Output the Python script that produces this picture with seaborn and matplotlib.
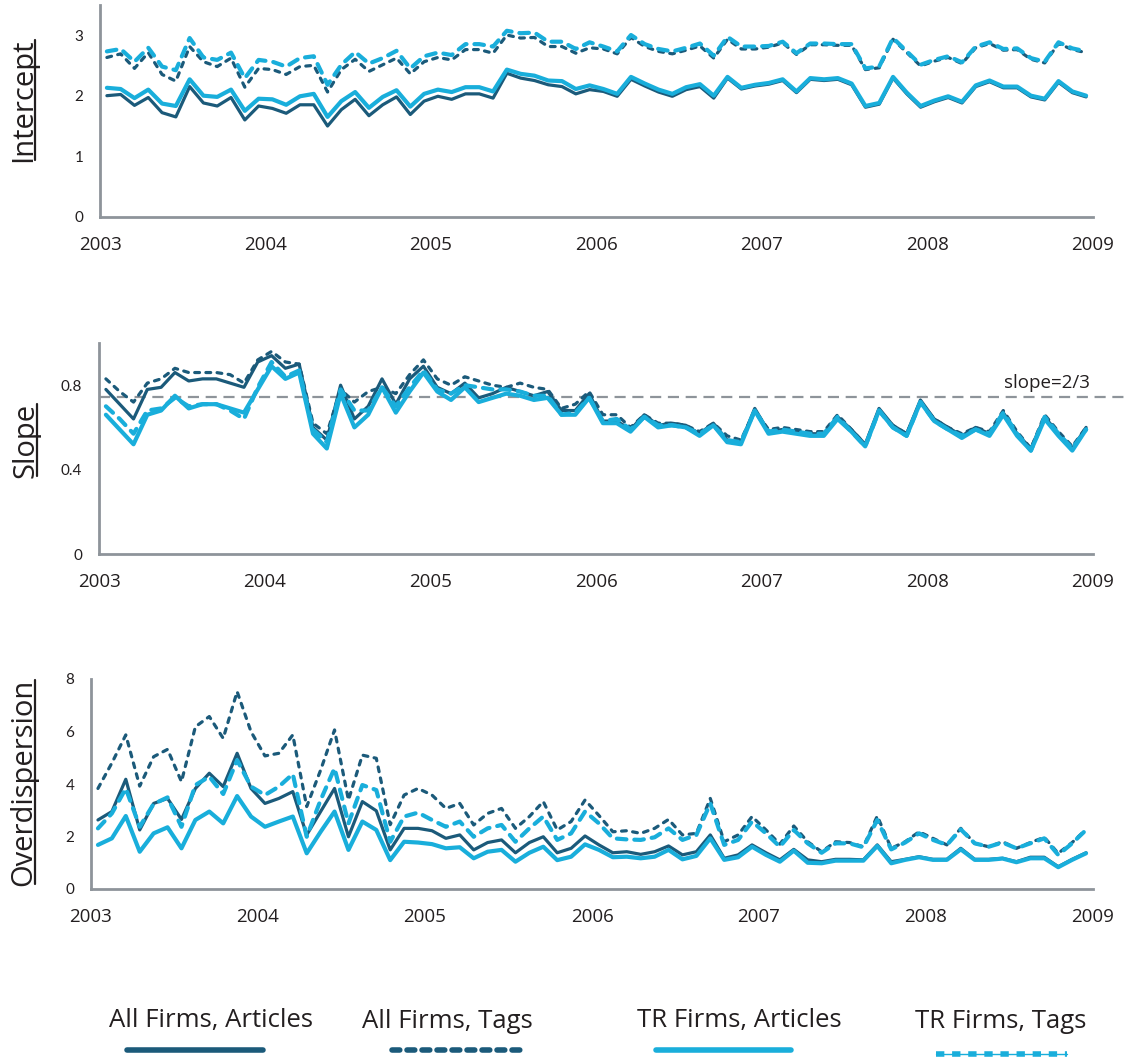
#!/usr/bin/env python3

# Import libraries
import numpy as np
import pandas as pd
import matplotlib as mpl
mpl.use("Agg")
import matplotlib.pyplot as plt
from matplotlib.lines import Line2D
from matplotlib.ticker import MultipleLocator, FuncFormatter
import seaborn as sns


# Monthly estimates, Jan 2003 .. Dec 2008 (72 months)
years = [2003, 2004, 2005, 2006, 2007, 2008, 2009]
series_names = ["All Firms, Articles", "All Firms, Tags", "TR Firms, Articles", "TR Firms, Tags"]

intercept_all_articles = [2.00, 2.02, 1.84, 1.97, 1.72, 1.65, 2.15, 1.88, 1.83, 1.97, 1.60, 1.83,
                          1.79, 1.71, 1.85, 1.85, 1.50, 1.77, 1.94, 1.67, 1.85, 1.98, 1.69, 1.91,
                          1.99, 1.94, 2.03, 2.03, 1.96, 2.37, 2.29, 2.25, 2.18, 2.15, 2.03, 2.10,
                          2.07, 1.99, 2.27, 2.16, 2.06, 1.99, 2.10, 2.15, 1.96, 2.29, 2.11, 2.16,
                          2.19, 2.25, 2.05, 2.27, 2.25, 2.27, 2.18, 1.81, 1.86, 2.29, 2.03, 1.81,
                          1.90, 1.97, 1.88, 2.15, 2.23, 2.13, 2.13, 1.98, 1.93, 2.22, 2.05, 1.98]
intercept_all_tags = [2.63, 2.69, 2.45, 2.71, 2.35, 2.24, 2.81, 2.56, 2.48, 2.62, 2.14, 2.45,
                      2.43, 2.35, 2.48, 2.50, 2.06, 2.43, 2.60, 2.40, 2.51, 2.62, 2.36, 2.56,
                      2.63, 2.59, 2.76, 2.76, 2.70, 3.00, 2.95, 2.96, 2.81, 2.81, 2.70, 2.79,
                      2.77, 2.69, 2.96, 2.81, 2.73, 2.69, 2.75, 2.82, 2.62, 2.93, 2.77, 2.77,
                      2.80, 2.87, 2.68, 2.84, 2.84, 2.83, 2.83, 2.43, 2.46, 2.93, 2.71, 2.49,
                      2.57, 2.63, 2.53, 2.79, 2.86, 2.75, 2.76, 2.60, 2.54, 2.86, 2.76, 2.71]
intercept_tr_articles = [2.13, 2.11, 1.96, 2.10, 1.87, 1.83, 2.27, 2.00, 1.98, 2.10, 1.75, 1.95,
                         1.94, 1.85, 1.99, 2.03, 1.65, 1.91, 2.06, 1.80, 1.98, 2.09, 1.82, 2.03,
                         2.10, 2.06, 2.14, 2.14, 2.07, 2.43, 2.36, 2.33, 2.25, 2.24, 2.11, 2.17,
                         2.11, 2.03, 2.31, 2.20, 2.10, 2.03, 2.14, 2.19, 2.00, 2.31, 2.13, 2.18,
                         2.21, 2.27, 2.07, 2.29, 2.27, 2.29, 2.20, 1.83, 1.88, 2.31, 2.05, 1.83,
                         1.92, 1.99, 1.90, 2.17, 2.25, 2.15, 2.15, 2.00, 1.95, 2.24, 2.07, 2.00]
intercept_tr_tags = [2.73, 2.77, 2.56, 2.79, 2.48, 2.42, 2.95, 2.63, 2.59, 2.71, 2.29, 2.59,
                     2.56, 2.48, 2.62, 2.65, 2.18, 2.51, 2.72, 2.53, 2.62, 2.74, 2.45, 2.65,
                     2.71, 2.67, 2.85, 2.85, 2.81, 3.07, 3.03, 3.04, 2.89, 2.89, 2.77, 2.88,
                     2.81, 2.73, 3.00, 2.85, 2.77, 2.73, 2.79, 2.86, 2.66, 2.97, 2.81, 2.81,
                     2.82, 2.89, 2.70, 2.86, 2.86, 2.85, 2.85, 2.45, 2.48, 2.95, 2.73, 2.51,
                     2.59, 2.65, 2.55, 2.81, 2.88, 2.77, 2.78, 2.62, 2.56, 2.88, 2.78, 2.73]

slope_all_articles = [0.78, 0.71, 0.64, 0.78, 0.79, 0.86, 0.82, 0.83, 0.83, 0.81, 0.79, 0.91,
                      0.94, 0.88, 0.90, 0.60, 0.54, 0.80, 0.64, 0.70, 0.83, 0.71, 0.83, 0.89,
                      0.79, 0.76, 0.81, 0.74, 0.76, 0.79, 0.77, 0.75, 0.77, 0.68, 0.68, 0.76,
                      0.63, 0.63, 0.59, 0.66, 0.61, 0.62, 0.61, 0.57, 0.62, 0.54, 0.53, 0.69,
                      0.58, 0.59, 0.58, 0.57, 0.57, 0.65, 0.59, 0.52, 0.69, 0.61, 0.57, 0.73,
                      0.64, 0.60, 0.56, 0.60, 0.57, 0.67, 0.57, 0.50, 0.65, 0.57, 0.50, 0.60]
slope_all_tags = [0.83, 0.77, 0.72, 0.81, 0.83, 0.88, 0.86, 0.86, 0.86, 0.85, 0.81, 0.92,
                  0.96, 0.91, 0.90, 0.62, 0.57, 0.78, 0.72, 0.77, 0.79, 0.76, 0.85, 0.92,
                  0.83, 0.80, 0.84, 0.82, 0.80, 0.79, 0.81, 0.79, 0.78, 0.69, 0.71, 0.77,
                  0.66, 0.66, 0.60, 0.66, 0.62, 0.62, 0.61, 0.58, 0.62, 0.56, 0.54, 0.68,
                  0.59, 0.60, 0.59, 0.58, 0.58, 0.66, 0.59, 0.52, 0.68, 0.61, 0.57, 0.72,
                  0.64, 0.60, 0.57, 0.60, 0.58, 0.68, 0.58, 0.50, 0.66, 0.58, 0.51, 0.60]
slope_tr_articles = [0.66, 0.59, 0.52, 0.66, 0.68, 0.75, 0.69, 0.71, 0.71, 0.69, 0.67, 0.78,
                     0.89, 0.83, 0.86, 0.57, 0.50, 0.76, 0.60, 0.66, 0.79, 0.67, 0.77, 0.86,
                     0.77, 0.73, 0.79, 0.72, 0.74, 0.76, 0.75, 0.73, 0.74, 0.66, 0.66, 0.74,
                     0.62, 0.62, 0.58, 0.65, 0.60, 0.61, 0.60, 0.56, 0.61, 0.53, 0.52, 0.68,
                     0.57, 0.58, 0.57, 0.56, 0.56, 0.64, 0.58, 0.51, 0.68, 0.60, 0.56, 0.72,
                     0.63, 0.59, 0.55, 0.59, 0.56, 0.66, 0.56, 0.49, 0.64, 0.56, 0.49, 0.59]
slope_tr_tags = [0.70, 0.64, 0.57, 0.68, 0.69, 0.74, 0.70, 0.71, 0.71, 0.68, 0.64, 0.79,
                 0.91, 0.84, 0.87, 0.59, 0.53, 0.78, 0.68, 0.68, 0.79, 0.70, 0.79, 0.87,
                 0.78, 0.76, 0.80, 0.79, 0.78, 0.78, 0.77, 0.75, 0.75, 0.66, 0.67, 0.74,
                 0.63, 0.64, 0.59, 0.65, 0.61, 0.61, 0.60, 0.57, 0.61, 0.54, 0.53, 0.68,
                 0.58, 0.59, 0.58, 0.57, 0.57, 0.65, 0.58, 0.51, 0.68, 0.60, 0.56, 0.72,
                 0.63, 0.59, 0.56, 0.59, 0.57, 0.67, 0.57, 0.49, 0.65, 0.57, 0.50, 0.59]
slope_reference = 0.745
slope_reference_label = "slope=2/3"

overdisp_all_articles = [2.63, 2.95, 4.18, 2.25, 3.26, 3.45, 2.65, 3.83, 4.41, 3.90, 5.17, 3.83,
                         3.26, 3.45, 3.71, 2.06, 2.95, 3.83, 1.99, 3.33, 2.98, 1.49, 2.31, 2.31,
                         2.22, 1.93, 2.06, 1.49, 1.77, 1.87, 1.38, 1.77, 1.99, 1.38, 1.55, 2.02,
                         1.68, 1.38, 1.42, 1.32, 1.42, 1.64, 1.30, 1.42, 2.06, 1.17, 1.30, 1.68,
                         1.38, 1.11, 1.51, 1.11, 1.04, 1.13, 1.13, 1.11, 1.68, 1.04, 1.13, 1.23,
                         1.13, 1.13, 1.55, 1.13, 1.13, 1.17, 1.04, 1.21, 1.21, 0.85, 1.13, 1.38]
overdisp_all_tags = [3.83, 4.80, 5.87, 3.92, 5.04, 5.32, 4.09, 6.18, 6.57, 5.74, 7.52, 5.99,
                     5.07, 5.17, 5.87, 3.14, 4.53, 6.06, 3.39, 5.10, 4.98, 2.45, 3.58, 3.83,
                     3.58, 3.07, 3.26, 2.44, 2.88, 3.07, 2.31, 2.76, 3.33, 2.25, 2.57, 3.39,
                     2.80, 2.18, 2.22, 2.12, 2.31, 2.65, 2.06, 2.12, 3.45, 1.80, 2.06, 2.76,
                     2.25, 1.71, 2.40, 1.80, 1.42, 1.80, 1.77, 1.61, 2.78, 1.55, 1.80, 2.18,
                     1.93, 1.68, 2.31, 1.74, 1.61, 1.80, 1.55, 1.77, 1.97, 1.36, 1.77, 2.27]
overdisp_tr_articles = [1.68, 1.93, 2.78, 1.42, 2.12, 2.35, 1.55, 2.63, 2.95, 2.50, 3.54, 2.76,
                        2.37, 2.57, 2.76, 1.36, 2.18, 2.95, 1.49, 2.57, 2.25, 1.10, 1.80, 1.77,
                        1.71, 1.55, 1.59, 1.17, 1.42, 1.49, 1.04, 1.38, 1.61, 1.10, 1.23, 1.70,
                        1.49, 1.21, 1.23, 1.17, 1.23, 1.49, 1.13, 1.26, 1.93, 1.11, 1.21, 1.61,
                        1.30, 1.04, 1.46, 1.00, 0.98, 1.08, 1.08, 1.08, 1.64, 0.98, 1.11, 1.21,
                        1.11, 1.11, 1.51, 1.11, 1.11, 1.16, 1.02, 1.17, 1.17, 0.83, 1.11, 1.36]
overdisp_tr_tags = [2.31, 2.88, 3.83, 2.37, 3.24, 3.49, 2.37, 3.96, 4.28, 3.62, 4.91, 3.90,
                    3.58, 3.90, 4.38, 1.99, 3.39, 4.60, 2.50, 3.96, 3.77, 1.80, 2.76, 2.91,
                    2.63, 2.37, 2.57, 1.99, 2.31, 2.44, 1.80, 2.31, 2.76, 1.87, 2.12, 2.95,
                    2.50, 1.93, 1.89, 1.87, 1.97, 2.31, 1.87, 2.06, 3.26, 1.68, 1.87, 2.57,
                    2.12, 1.61, 2.25, 1.74, 1.38, 1.74, 1.74, 1.59, 2.63, 1.51, 1.77, 2.12,
                    1.87, 1.68, 2.27, 1.74, 1.61, 1.77, 1.55, 1.74, 1.93, 1.30, 1.74, 2.25]


# Styling
DARK = "#1B5A7A"
LIGHT = "#19AEDB"
AXIS_GREY = "#8E949A"
TEXT = "#231F20"
W, H = 1137, 1063

palette = {series_names[0]: DARK, series_names[1]: DARK,
           series_names[2]: LIGHT, series_names[3]: LIGHT}
dashes = {series_names[0]: "", series_names[1]: (1.5, 2.0),
          series_names[2]: "", series_names[3]: (2.3, 1.9)}
widths = {series_names[0]: 2.3, series_names[1]: 2.3,
          series_names[2]: 3.0, series_names[3]: 3.0}


def to_frame(values):
    ''' Build a long data frame (month, value, series) for one panel. '''
    frames = []
    for name, vals in zip(series_names, values):
        frames.append(pd.DataFrame({"month": np.arange(len(vals)) + 0.5,
                                    "value": vals, "series": name}))
    return pd.concat(frames, ignore_index=True)


def style_axis(ax, ylim, step, labelled):
    ''' Spines, ticks and tick labels in the grey Excel look. '''
    sns.despine(ax=ax)
    for side in ("left", "bottom"):
        ax.spines[side].set_color(AXIS_GREY)
        ax.spines[side].set_linewidth(2.0)
    ax.set_xlim(0, 72)
    ax.set_ylim(*ylim)
    ax.set_xticks([12 * k for k in range(len(years))])
    ax.set_xticklabels([str(y) for y in years])
    ax.yaxis.set_major_locator(MultipleLocator(step))
    ax.yaxis.set_major_formatter(FuncFormatter(
        lambda v, p: ("%g" % round(v, 2)) if any(abs(v - l) < 1e-6 for l in labelled) else ""))
    ax.tick_params(axis="both", direction="out", length=5, width=2.0, color=AXIS_GREY)
    ax.tick_params(axis="x", pad=9, labelsize=13.5, labelcolor=TEXT)
    ax.tick_params(axis="y", pad=7, labelsize=11, labelcolor=TEXT)
    for lab in ax.get_xticklabels():
        lab.set_family("Open Sans")
    for lab in ax.get_yticklabels():
        lab.set_family("Lato")
    ax.set_xlabel("")
    ax.set_ylabel("")


def underlined_label(fig, text, x, y):
    ''' Vertical axis title with an underline, as in the original. '''
    t = fig.text(x, y, text, rotation=90, ha="center", va="center",
                 fontsize=21, family="Open Sans", color=TEXT)
    fig.canvas.draw()
    bb = t.get_window_extent(fig.canvas.get_renderer())
    inv = fig.transFigure.inverted()
    (x0, y0), (x1, y1) = inv.transform([[bb.x1 - 0.13 * bb.width, bb.y0 + 2],
                                        [bb.x1 - 0.13 * bb.width, bb.y1 - 2]])
    fig.add_artist(Line2D([x0, x1], [y0, y1], color=TEXT, lw=1.6))


def panel(fig, box, values, ylim, step, labelled):
    left, top, right, bottom = box
    ax = fig.add_axes([left / W, 1 - bottom / H, (right - left) / W, (bottom - top) / H])
    df = to_frame(values)
    sns.lineplot(data=df, x="month", y="value", hue="series", style="series", size="series",
                 hue_order=series_names, style_order=series_names, size_order=series_names,
                 palette=palette, dashes=dashes, sizes=widths, legend=False, ax=ax)
    style_axis(ax, ylim, step, labelled)
    return ax


def draw_legend(fig):
    ''' Text above a short line sample, four entries side by side. '''
    entries = [(211, 127, 263), (447, 392, 527), (739, 656, 791), (1001, 936, 1067)]
    for name, (cx, x0, x1) in zip(series_names, entries):
        fig.text(cx / W, 1 - 1021 / H, name, ha="center", va="center",
                 fontsize=18.5, family="Open Sans", color=TEXT)
        if name == series_names[3]:
            fig.add_artist(Line2D([x0 / W, x1 / W], [1 - 1054 / H] * 2, color=LIGHT, lw=1.0))
            fig.add_artist(Line2D([x0 / W, x1 / W], [1 - 1054 / H] * 2, color=LIGHT, lw=4.0,
                                  linestyle=(0, (1.5, 1.4)), dash_capstyle="butt"))
        elif name == series_names[1]:
            fig.add_artist(Line2D([x0 / W, x1 / W], [1 - 1050 / H] * 2, color=DARK, lw=4.0,
                                  linestyle=(0, (1.4, 1.3)), dash_capstyle="round"))
        else:
            fig.add_artist(Line2D([x0 / W, x1 / W], [1 - 1050 / H] * 2, color=palette[name],
                                  lw=4.0, solid_capstyle="round"))


def main():
    sns.set_style("white")
    plt.rcParams["font.family"] = ["Open Sans", "DejaVu Sans"]
    plt.rcParams["lines.dash_capstyle"] = "round"
    plt.rcParams["lines.solid_capstyle"] = "round"

    fig = plt.figure(figsize=(W / 100, H / 100), dpi=100)

    panel(fig, (100, 4.7, 1093, 217),
          [intercept_all_articles, intercept_all_tags, intercept_tr_articles, intercept_tr_tags],
          (0, 3.5), 0.5, [0, 1, 2, 3])

    ax2 = panel(fig, (99, 343, 1093, 554),
                [slope_all_articles, slope_all_tags, slope_tr_articles, slope_tr_tags],
                (0, 1.0), 0.2, [0, 0.4, 0.8])
    ax2.axhline(slope_reference, xmin=0, xmax=1.035, color=AXIS_GREY, lw=1.6,
                linestyle=(0, (5, 3)), dash_capstyle="butt", clip_on=False, zorder=0.5)
    ax2.text(71.8, 0.81, slope_reference_label, ha="right", va="center",
             fontsize=13.5, family="Open Sans", color=TEXT)

    panel(fig, (91, 679, 1093, 889),
          [overdisp_all_articles, overdisp_all_tags, overdisp_tr_articles, overdisp_tr_tags],
          (0, 8), 2, [0, 2, 4, 6, 8])

    underlined_label(fig, "Intercept", 24 / W, 1 - 100 / H)
    underlined_label(fig, "Slope", 26 / W, 1 - 440 / H)
    underlined_label(fig, "Overdispersion", 24 / W, 1 - 782 / H)

    draw_legend(fig)

    fig.savefig("out.png", dpi=100)


if __name__ == '__main__':
    main()
